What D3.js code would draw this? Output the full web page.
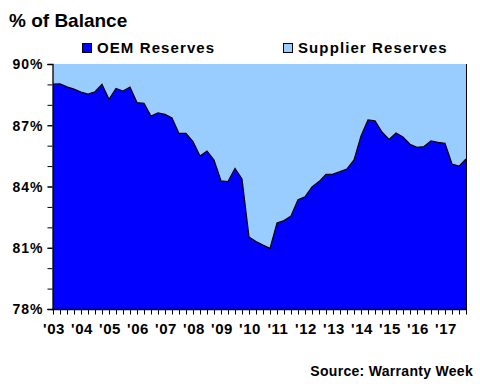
<!DOCTYPE html>
<html>
<head>
<meta charset="utf-8">
<script src="https://cdn.jsdelivr.net/npm/d3@7"></script>
<style>
body{margin:0;background:#fff;}
svg text{font-family:"Liberation Sans",Arial,sans-serif;font-weight:bold;fill:#000;}
</style>
</head>
<body>
<div id="chart"></div>
<script>
// year labels, one per 4 quarters
const years = ["'03","'04","'05","'06","'07","'08","'09","'10","'11","'12","'13","'14","'15","'16","'17"];
// OEM share of warranty reserve balance, quarterly 2003Q1..2017Q4
const oemShare = [89.02,89.03,88.88,88.77,88.63,88.53,88.64,89.0,88.27,88.8,
                  88.68,88.87,88.11,88.08,87.45,87.6,87.53,87.36,86.6,86.6,
                  86.2,85.49,85.74,85.3,84.28,84.24,84.89,84.37,81.53,81.31,
                  81.13,80.97,82.21,82.33,82.56,83.35,83.49,83.98,84.24,84.59,
                  84.61,84.73,84.86,85.3,86.47,87.26,87.22,86.67,86.31,86.62,
                  86.42,86.07,85.92,85.96,86.23,86.16,86.12,85.1,85.0,85.35];
const yTicks = [78,81,84,87,90];
const yMinorTicks = [78,79,80,81,82,83,84,85,86,87,88,89,90];
const seriesNames = ["OEM Reserves","Supplier Reserves"];
const seriesColors = ["#0000ff","#99ccff"];

const W = 480, H = 390;
const pLeft = 53, pRight = 466, pTop = 64, pBottom = 309;

var svg = d3.select("#chart").append("svg")
            .attr("width",W)
            .attr("height",H);

var x = d3.scaleLinear().domain([0,oemShare.length-1]).range([pLeft,pRight]);
var y = d3.scaleLinear().domain([78,90]).range([pBottom,pTop]);

var rows = oemShare.map(function(v,i){ return {i:i,oem:v,supplier:100-v}; });
var stack = d3.stack().keys(["oem","supplier"]);
var layers = stack(rows);

svg.append("clipPath").attr("id","plotClip")
   .append("rect").attr("x",pLeft).attr("y",pTop)
   .attr("width",pRight-pLeft).attr("height",pBottom-pTop);

var area = d3.area()
             .x(function(d){ return x(d.data.i); })
             .y0(function(d){ return y(d[0]); })
             .y1(function(d){ return y(d[1]); });

var plot = svg.append("g").attr("clip-path","url(#plotClip)");
plot.selectAll("path.layer")
    .data(layers)
    .enter().append("path")
    .attr("class","layer")
    .attr("d",area)
    .attr("fill",function(d,i){ return seriesColors[i]; });

// border between the two series
plot.append("path")
    .datum(rows)
    .attr("d",d3.line().x(function(d){ return x(d.i); }).y(function(d){ return y(d.oem); }))
    .attr("fill","none")
    .attr("stroke","#000")
    .attr("stroke-width",1.2);

// right edge of the series
svg.append("line")
   .attr("x1",pRight+0.5).attr("x2",pRight+0.5)
   .attr("y1",pTop).attr("y2",pBottom)
   .attr("stroke","#000").attr("stroke-width",1);

// y axis: minor ticks every 1%, labels every 3%
var gyMinor = svg.append("g").attr("transform","translate("+(pLeft-0.5)+",0)")
                 .call(d3.axisLeft(y).tickValues(yMinorTicks).tickSize(5).tickFormat(""));
gyMinor.select(".domain").remove();
gyMinor.selectAll(".tick line").attr("stroke","#000");

var yAxis = d3.axisLeft(y).tickValues(yTicks).tickSize(5).tickPadding(4)
              .tickFormat(function(d){ return d+"%"; });
var gy = svg.append("g").attr("transform","translate("+(pLeft-0.5)+",0)").call(yAxis);
gy.select(".domain").attr("stroke","#000").attr("stroke-width",1.3);
gy.selectAll(".tick line").attr("stroke","#000");
gy.selectAll("text").style("font-size","14px").style("letter-spacing","1px").attr("dy","0.35em");

// x axis with quarterly ticks
var gx = svg.append("g").attr("transform","translate(0,"+(pBottom+0.5)+")");
gx.append("line").attr("x1",pLeft-1).attr("x2",pRight+1)
  .attr("stroke","#000").attr("stroke-width",1.3);
gx.selectAll("line.qtick")
  .data(d3.range(oemShare.length))
  .enter().append("line")
  .attr("class","qtick")
  .attr("x1",function(d){ return Math.round(x(d))+0.5; })
  .attr("x2",function(d){ return Math.round(x(d))+0.5; })
  .attr("y1",0).attr("y2",5)
  .attr("stroke","#000");
gx.selectAll("text")
  .data(years)
  .enter().append("text")
  .attr("x",function(d,i){ return x(i*4)+1; })
  .attr("y",24)
  .attr("text-anchor","middle")
  .style("font-size","15px")
  .style("letter-spacing","0.5px")
  .text(function(d){ return d; });

// title
svg.append("text").attr("x",9).attr("y",27)
   .style("font-size","19px")
   .text("% of Balance");

// legend
var legendX = [82,283];
var leg = svg.selectAll("g.leg")
             .data(seriesNames)
             .enter().append("g")
             .attr("class","leg")
             .attr("transform",function(d,i){ return "translate("+legendX[i]+",43)"; });
leg.append("rect")
   .attr("x",0.5).attr("y",0.5)
   .attr("width",9).attr("height",9)
   .attr("fill",function(d,i){ return seriesColors[i]; })
   .attr("stroke","#000");
leg.append("text")
   .attr("x",15).attr("y",10)
   .style("font-size","15px")
   .style("letter-spacing","1.1px")
   .text(function(d){ return d; });

// source
svg.append("text").attr("x",473).attr("y",376)
   .attr("text-anchor","end")
   .style("font-size","14px")
   .style("letter-spacing","0.3px")
   .text("Source: Warranty Week");
</script>
</body>
</html>
